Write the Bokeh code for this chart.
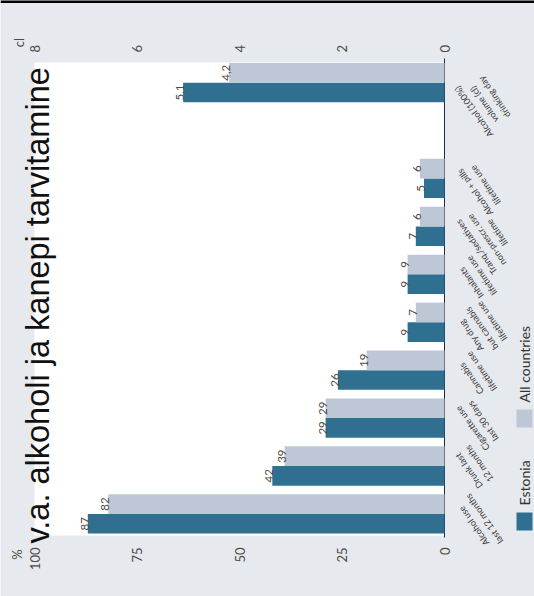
import math
from bokeh.plotting import figure
from bokeh.models import Range1d, ColumnDataSource
from bokeh.core.properties import value
from bokeh.embed import file_html
from bokeh.resources import INLINE

# ---------------- data ----------------
pct_categories = ["Alcohol use\nlast 12 months", "Drunk last\n12 months",
                  "Cigarette use\nlast 30 days", "Cannabis\nlifetime use",
                  "Any drug\nbut cannabis\nlifetime use", "Inhalants\nlifetime use",
                  "Tranq./sedatives\nnon-prescr. use\nlifetime",
                  "Alcohol + pills\nlifetime use"]
estonia_pct = [87, 42, 29, 26, 9, 9, 7, 5]
all_pct = [82, 39, 29, 19, 7, 9, 6, 6]

cl_categories = ["Alcohol (100%)\nvolume (cl)\ndrinking day"]
estonia_cl = [5.1]
all_cl = [4.2]

series_names = ["Estonia", "All countries"]
pct_ticks = [0, 25, 50, 75, 100]
cl_ticks = [0, 2, 4, 6, 8]
pct_unit = "%"
cl_unit = "cl"
title_text = "v.a. alkoholi ja kanepi tarvitamine"

# ---------------- style ----------------
C_EST = "#2f7090"
C_ALL = "#bdc7d5"
BG = "#e6eaee"
TXT = "#504a45"
FONT = "Lato"

W, H = 534, 596
OFF = 0  # page offset of the canvas
# plot-area edges in page pixels
FL, FR, FT, FB = 34, 444, 62, 535
GAP = 1  # empty slot between the % group and the cl group
n_slots = len(pct_categories) + GAP + len(cl_categories)
Y0, Y1 = -0.45, n_slots - 1 + 0.42
BAR_H = 0.41
PCT_MAX = pct_ticks[-1]
CL_MAX = cl_ticks[-1]
SLOT_PX = (FB - FT) / (Y1 - Y0)
PX_PER_PCT = (FR - FL) / PCT_MAX


def xd(sx):  # page x -> % data
    return PCT_MAX * (FR - sx) / (FR - FL)


def yd(sy):  # page y -> slot data
    return Y0 + (FB - sy) / SLOT_PX


p = figure(width=W, height=H, output_backend="svg", toolbar_location=None,
           x_range=Range1d(xd(OFF), xd(OFF + W)), y_range=Range1d(yd(OFF + H), yd(OFF)),
           x_axis_location=None, y_axis_location=None,
           min_border=0, min_border_left=0, min_border_right=0,
           min_border_top=0, min_border_bottom=0,
           background_fill_color=BG, border_fill_color=BG,
           outline_line_color=None)
p.grid.visible = False
k = CL_MAX / PCT_MAX
p.extra_x_ranges = {"cl": Range1d(xd(OFF) * k, xd(OFF + W) * k)}

# frame line along the top of the picture
p.segment(x0=xd(0), x1=xd(W), y0=yd(1), y1=yd(1), line_color="#000000", line_width=3)

# plot area (value domain 0..100 x all category slots)
p.quad(left=PCT_MAX, right=0, bottom=Y0, top=Y1, fill_color="white", line_color=None)
# category axis line at zero
p.segment(x0=0, x1=0, y0=yd(537), y1=yd(58), line_color="#1c2b4a", line_width=1)

# value-axis tick labels
p.text(x=pct_ticks, y=[yd(547)] * len(pct_ticks), text=[str(t) for t in pct_ticks],
       angle=math.pi / 2, text_align="right", text_baseline="middle",
       text_font=value(FONT), text_font_size="13px", text_color=TXT)
p.text(x=cl_ticks, y=[yd(52)] * len(cl_ticks), text=[str(t) for t in cl_ticks],
       angle=math.pi / 2, text_align="left", text_baseline="middle",
       text_font=value(FONT), text_font_size="13px", text_color=TXT, x_range_name="cl")
p.text(x=[xd(16)], y=[yd(554)], text=[pct_unit], angle=math.pi / 2,
       text_align="center", text_baseline="middle",
       text_font=value(FONT), text_font_size="13px", text_color=TXT)
p.text(x=[xd(18)], y=[yd(42)], text=[cl_unit], angle=math.pi / 2,
       text_align="center", text_baseline="middle",
       text_font=value(FONT), text_font_size="13px", text_color=TXT)

# positions
pct_pos = list(range(len(pct_categories)))
cl_pos = [len(pct_categories) + GAP + i for i in range(len(cl_categories))]

src_pct = ColumnDataSource(dict(
    pos_est=[q - BAR_H / 2 for q in pct_pos], pos_all=[q + BAR_H / 2 for q in pct_pos],
    est=estonia_pct, all=all_pct,
    est_lbl=[str(v) for v in estonia_pct], all_lbl=[str(v) for v in all_pct]))
src_cl = ColumnDataSource(dict(
    pos_est=[q - BAR_H / 2 for q in cl_pos], pos_all=[q + BAR_H / 2 for q in cl_pos],
    est=estonia_cl, all=all_cl,
    est_lbl=[f"{v:.1f}".replace(".", ",") for v in estonia_cl],
    all_lbl=[f"{v:.1f}".replace(".", ",") for v in all_cl]))

for src, rn in ((src_pct, "default"), (src_cl, "cl")):
    p.hbar(y="pos_est", left=0, right="est", height=BAR_H, source=src,
           fill_color=C_EST, line_color=None, x_range_name=rn)
    p.hbar(y="pos_all", left=0, right="all", height=BAR_H, source=src,
           fill_color=C_ALL, line_color=None, x_range_name=rn)
    for xcol, ycol, tcol in (("est", "pos_est", "est_lbl"), ("all", "pos_all", "all_lbl")):
        p.text(x=xcol, y=ycol, text=tcol, source=src, x_range_name=rn,
               angle=math.pi / 2, text_align="center", text_baseline="alphabetic",
               x_offset=-3, text_font=value(FONT), text_font_size="11.5px",
               text_color=TXT)

# category labels: centred lines, block's end edge placed next to the axis
LAB_ANG = math.radians(125)
CHAR_PX = 4.4  # approx. average glyph width at 9px
all_cats = pct_categories + cl_categories
shifts = [-10 + 5 * (len(c.split("\n")) - 2) for c in pct_categories] + [7] * len(cl_pos)
lab_x, lab_y = [], []
for cat, q, s in zip(all_cats, pct_pos + cl_pos, shifts):
    half = max(len(line) for line in cat.split("\n")) * CHAR_PX / 2
    dx = 7 - math.cos(LAB_ANG) * half      # move toward the text start (right/down)
    dy = s + math.sin(LAB_ANG) * half      # + = down on the page
    lab_x.append(-dx / PX_PER_PCT)
    lab_y.append(q - dy / SLOT_PX)
src_cat = ColumnDataSource(dict(x=lab_x, pos=lab_y, cat=all_cats))
p.text(x="x", y="pos", text="cat", source=src_cat,
       angle=LAB_ANG, text_align="center", text_baseline="top",
       text_font=value(FONT), text_font_size="9px",
       text_line_height=1.15, text_color="#3c3838")

# legend (rotated)
for name, col, sy_bot in ((series_names[0], C_EST, 530), (series_names[1], C_ALL, 427)):
    p.quad(left=xd(516), right=xd(532), bottom=yd(sy_bot), top=yd(sy_bot - 18),
           fill_color=col, line_color=None)
    p.text(x=[xd(524)], y=[yd(sy_bot - 25)], text=[name], angle=math.pi / 2,
           text_align="left", text_baseline="middle", text_font=value(FONT),
           text_font_size="14px", text_color="#333333")

# overlay title
p.text(x=[xd(37)], y=[yd(543)], text=[title_text], angle=math.pi / 2,
       text_align="left", text_baseline="alphabetic",
       text_font=value("Liberation Sans"),
       text_font_size="32.5px", text_color="#111111")

open("out.html", "w").write(file_html(p, INLINE))
